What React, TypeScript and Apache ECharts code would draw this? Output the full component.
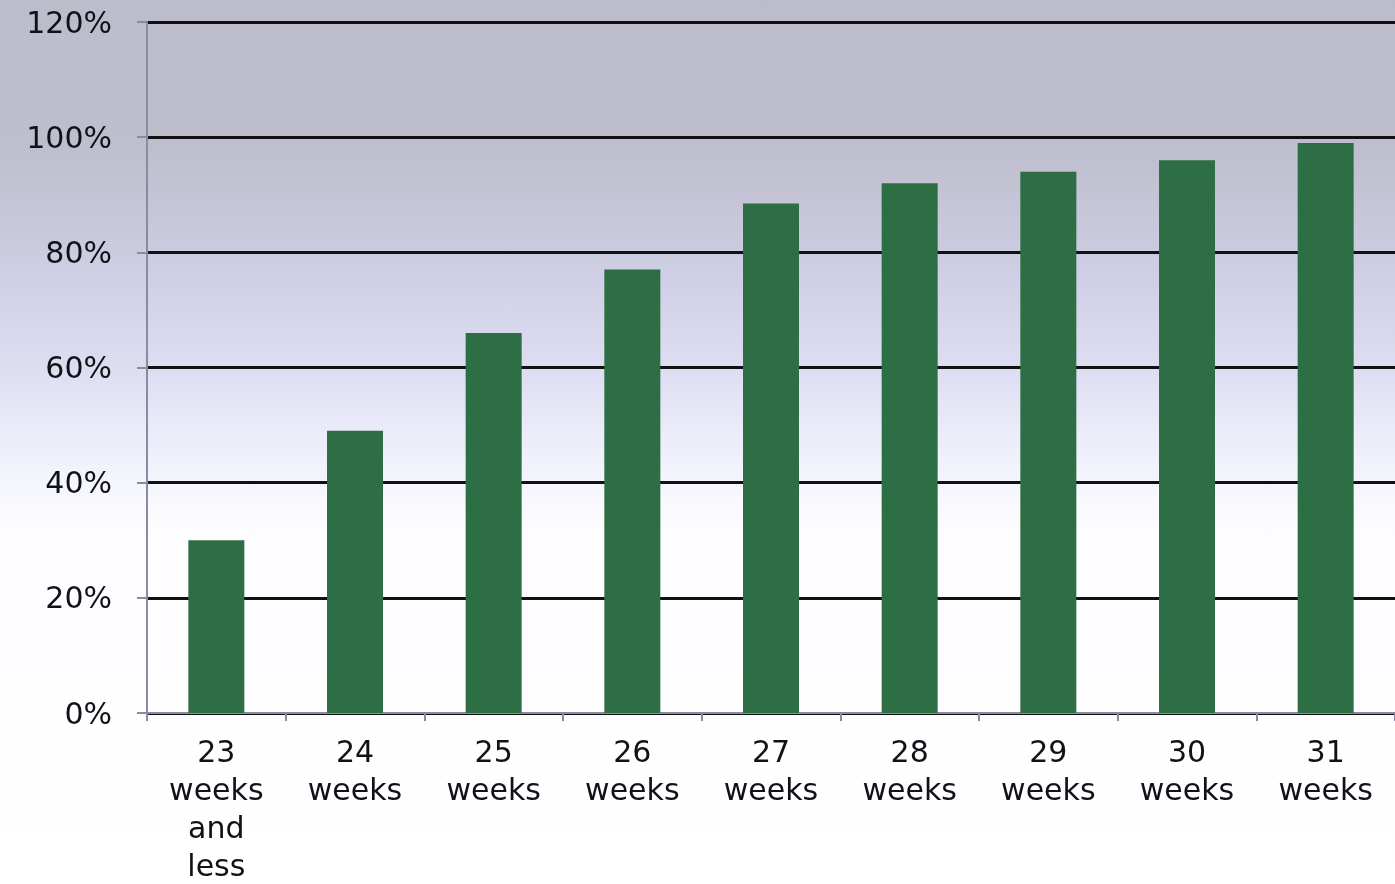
import React, { useEffect, useRef } from "react";
import * as echarts from "echarts";

const categories = [
  "23\nweeks\nand\nless",
  "24\nweeks",
  "25\nweeks",
  "26\nweeks",
  "27\nweeks",
  "28\nweeks",
  "29\nweeks",
  "30\nweeks",
  "31\nweeks",
];
const values = [30, 49, 66, 77, 88.5, 92, 94, 96, 99];
const yTicks = { min: 0, max: 120, interval: 20 };

export default function App() {
  const ref = useRef<HTMLDivElement>(null);
  useEffect(() => {
    if (!ref.current) return;
    const chart = echarts.init(ref.current, undefined, { renderer: "svg" });
    const font = "'DejaVu Sans', Verdana, sans-serif";
    chart.setOption({
      animation: false,
      graphic: [
        {
          type: "rect",
          z: -100,
          silent: true,
          shape: { x: 0, y: 0, width: 1395, height: 884 },
          style: {
            fill: new echarts.graphic.LinearGradient(0, 0, 0, 1, [
              { offset: 0, color: "#bcbcca" },
              { offset: 0.17, color: "#bebecd" },
              { offset: 0.3, color: "#cdcde3" },
              { offset: 0.42, color: "#dedef3" },
              { offset: 0.52, color: "#f1f1fc" },
              { offset: 0.6, color: "#fdfdff" },
              { offset: 1, color: "#ffffff" },
            ]),
          },
        },
      ],
      grid: { left: 147, top: 22, width: 1255, height: 693, containLabel: false },
      xAxis: {
        type: "category",
        data: categories,
        boundaryGap: true,
        axisLine: { lineStyle: { color: "#8a8aa2", width: 2 } },
        axisTick: { show: true, length: 8, lineStyle: { color: "#8a8aa2", width: 2 } },
        axisLabel: {
          interval: 0,
          margin: 19,
          color: "#111118",
          fontFamily: font,
          fontSize: 30,
          lineHeight: 38,
        },
        splitLine: { show: false },
      },
      yAxis: {
        type: "value",
        min: yTicks.min,
        max: yTicks.max,
        interval: yTicks.interval,
        axisLine: { show: true, lineStyle: { color: "#8a8aa2", width: 2 } },
        axisTick: { show: true, length: 10, lineStyle: { color: "#8a8aa2", width: 2 } },
        axisLabel: {
          margin: 35,
          color: "#111118",
          fontFamily: font,
          fontSize: 30,
          formatter: (v: number) => v + "%",
        },
        splitLine: { show: true, lineStyle: { color: "#111111", width: 3 } },
      },
      series: [
        {
          type: "bar",
          data: values,
          barWidth: 56,
          itemStyle: { color: "#2d6e44" },
        },
      ],
    });
    return () => chart.dispose();
  }, []);
  return (
    <div
      ref={ref}
      style={{ position: "fixed", left: 0, top: 0, width: 1395, height: 884 }}
    />
  );
}
